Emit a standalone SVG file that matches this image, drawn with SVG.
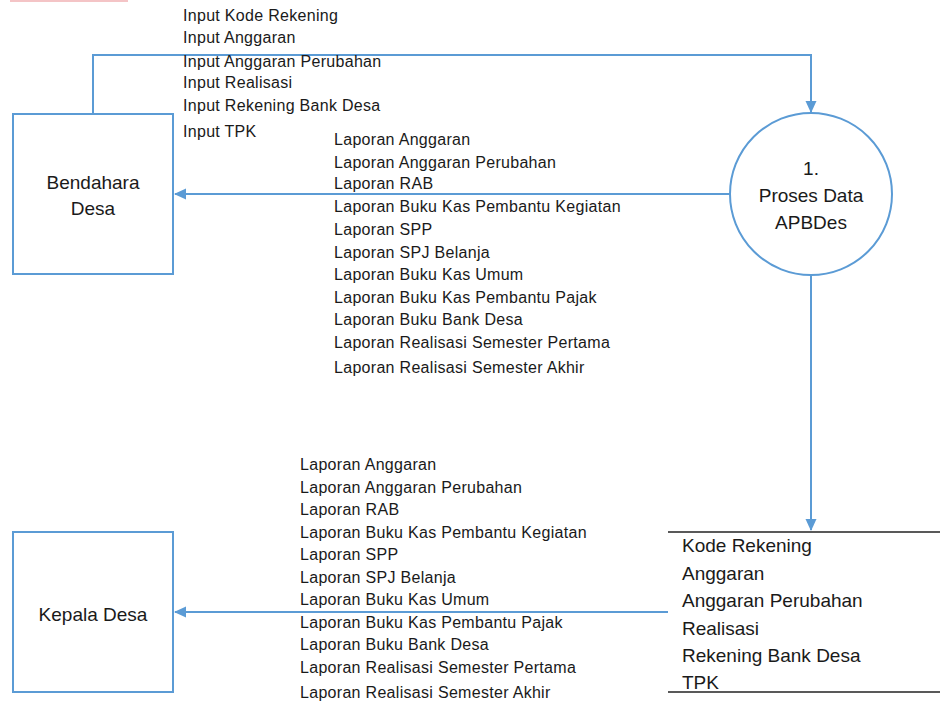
<svg xmlns="http://www.w3.org/2000/svg" width="940" height="703" viewBox="0 0 940 703">
<defs>
<style>
.ln{fill:none;stroke:#5b9bd5;stroke-width:2}
.box{fill:#fff;stroke:#5b9bd5;stroke-width:2}
.t{font-family:"Liberation Sans",Arial,sans-serif;font-size:16px;letter-spacing:0.3px;fill:#1a1a1a}
.n{font-family:"Liberation Sans",Arial,sans-serif;font-size:19px;fill:#1a1a1a}
.ds{fill:none;stroke:#222;stroke-width:1.5}
</style>
<marker id="ah" markerWidth="12" markerHeight="12" refX="11" refY="6" orient="auto" markerUnits="userSpaceOnUse" viewBox="0 0 12 12">
<path d="M0,0.5 L12,6 L0,11.5 z" fill="#5b9bd5"/>
</marker>
</defs>
<rect width="940" height="703" fill="#fff"/>
<rect x="10" y="0" width="118" height="2" fill="#f4c4c6"/>
<g id="connectors">
<path class="ln" d="M93,114 V55 H811 V112" marker-end="url(#ah)"/>
<path class="ln" d="M730,194 H175" marker-end="url(#ah)"/>
<path class="ln" d="M811,274 V530" marker-end="url(#ah)"/>
<path class="ln" d="M668,612 H175" marker-end="url(#ah)"/>
<g class="t">
<text x="183" y="21">Input Kode Rekening</text>
<text x="183" y="43">Input Anggaran</text>
<text x="183" y="67">Input Anggaran Perubahan</text>
<text x="183" y="88">Input Realisasi</text>
<text x="183" y="111">Input Rekening Bank Desa</text>
<text x="183" y="137">Input TPK</text>
</g>
<g class="t">
<text x="334" y="145">Laporan Anggaran</text>
<text x="334" y="168">Laporan Anggaran Perubahan</text>
<text x="334" y="189">Laporan RAB</text>
<text x="334" y="212">Laporan Buku Kas Pembantu Kegiatan</text>
<text x="334" y="235">Laporan SPP</text>
<text x="334" y="258">Laporan SPJ Belanja</text>
<text x="334" y="280">Laporan Buku Kas Umum</text>
<text x="334" y="303">Laporan Buku Kas Pembantu Pajak</text>
<text x="334" y="325">Laporan Buku Bank Desa</text>
<text x="334" y="348">Laporan Realisasi Semester Pertama</text>
<text x="334" y="373">Laporan Realisasi Semester Akhir</text>
</g>
<g class="t">
<text x="300" y="470">Laporan Anggaran</text>
<text x="300" y="493">Laporan Anggaran Perubahan</text>
<text x="300" y="515">Laporan RAB</text>
<text x="300" y="538">Laporan Buku Kas Pembantu Kegiatan</text>
<text x="300" y="560">Laporan SPP</text>
<text x="300" y="583">Laporan SPJ Belanja</text>
<text x="300" y="605">Laporan Buku Kas Umum</text>
<text x="300" y="628">Laporan Buku Kas Pembantu Pajak</text>
<text x="300" y="650">Laporan Buku Bank Desa</text>
<text x="300" y="673">Laporan Realisasi Semester Pertama</text>
<text x="300" y="698">Laporan Realisasi Semester Akhir</text>
</g>
</g>
<g id="bendahara">
<rect class="box" x="13" y="114" width="160" height="160"/>
<text class="n" x="93" y="189" text-anchor="middle">Bendahara</text>
<text class="n" x="93" y="215" text-anchor="middle">Desa</text>
</g>
<g id="proses">
<circle class="box" cx="811" cy="194" r="81"/>
<text class="n" x="811" y="175" text-anchor="middle">1.</text>
<text class="n" x="811" y="202" text-anchor="middle">Proses Data</text>
<text class="n" x="811" y="229" text-anchor="middle">APBDes</text>
</g>
<g id="datastore">
<line class="ds" x1="668" y1="532" x2="940" y2="532"/>
<line class="ds" x1="668" y1="692" x2="940" y2="692"/>
<text class="n" x="682" y="552">Kode Rekening</text>
<text class="n" x="682" y="580">Anggaran</text>
<text class="n" x="682" y="607">Anggaran Perubahan</text>
<text class="n" x="682" y="635">Realisasi</text>
<text class="n" x="682" y="662">Rekening Bank Desa</text>
<text class="n" x="682" y="689">TPK</text>
</g>
<g id="kepala">
<rect class="box" x="13" y="532" width="160" height="160"/>
<text class="n" x="93" y="621" text-anchor="middle">Kepala Desa</text>
</g>
</svg>
